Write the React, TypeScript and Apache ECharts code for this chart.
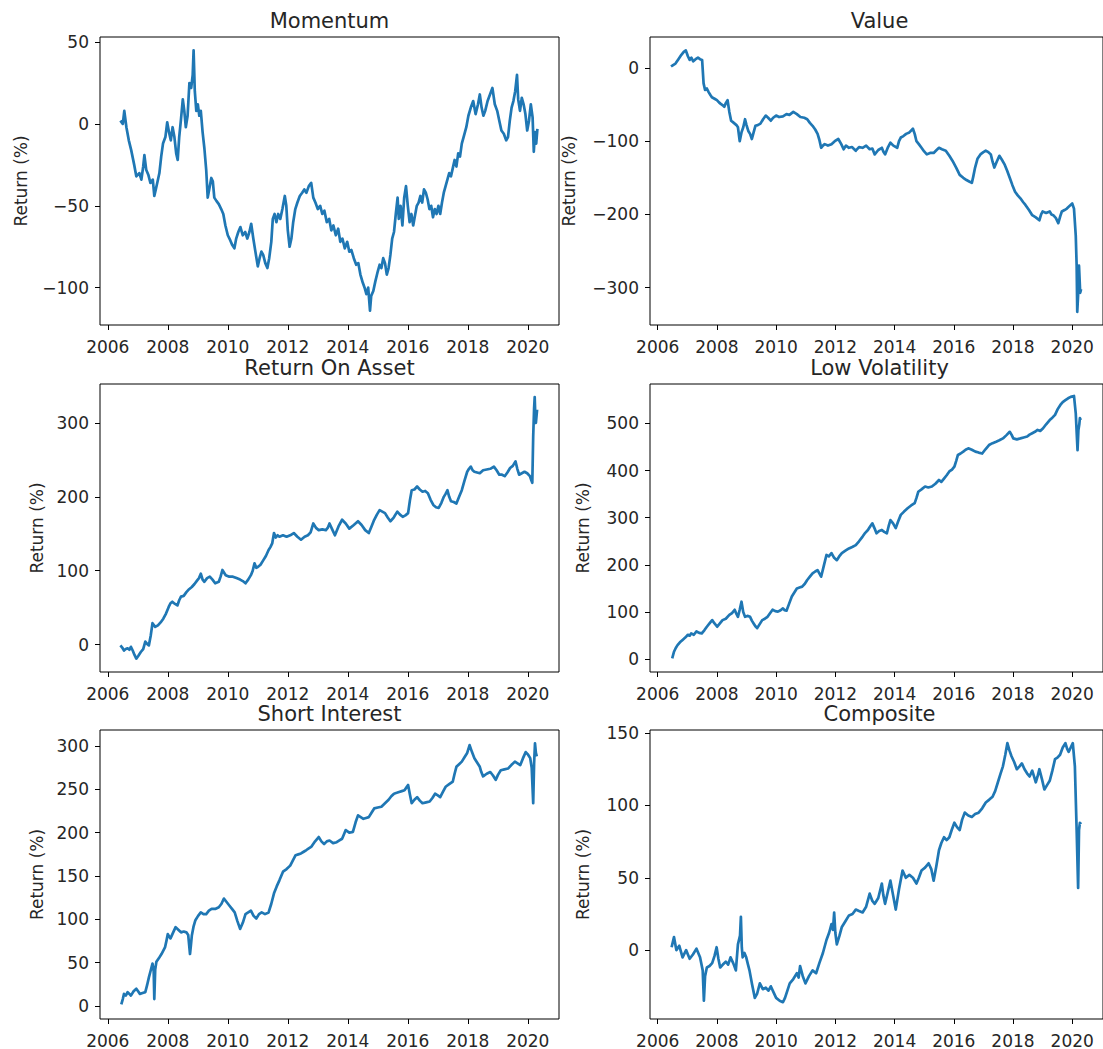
import React, { useEffect, useRef } from "react";
import * as echarts from "echarts";

// ---------- data (decimal year, return %) ----------
const TITLES = ["Momentum", "Value", "Return On Asset", "Low Volatility", "Short Interest", "Composite"];
const X_TICK_YEARS = [2006, 2008, 2010, 2012, 2014, 2016, 2018, 2020];
const X_RANGE = [2005.74, 2021.04];
const Y_TICKS = [
  [-100, -50, 0, 50],
  [-300, -200, -100, 0],
  [0, 100, 200, 300],
  [0, 100, 200, 300, 400, 500],
  [0, 50, 100, 150, 200, 250, 300],
  [0, 50, 100, 150],
];
const Y_RANGES = [
  [-122.8, 53.1],
  [-351, 42.3],
  [-37.1, 352.8],
  [-26.9, 583.3],
  [-15, 318.5],
  [-47.6, 152.1],
];

const MOMENTUM = [
  [2006.42, 2], [2006.5, 0], [2006.55, 8], [2006.62, -2], [2006.7, -10], [2006.78, -16], [2006.88, -25], [2006.95, -32],
  [2007.05, -30], [2007.12, -34], [2007.18, -26], [2007.22, -19], [2007.28, -28], [2007.35, -31], [2007.42, -36], [2007.5, -34],
  [2007.55, -44], [2007.6, -40], [2007.66, -35], [2007.72, -30], [2007.78, -20], [2007.84, -12], [2007.92, -8], [2007.98, 1],
  [2008.04, -5], [2008.1, -10], [2008.16, -2], [2008.22, -8], [2008.28, -18], [2008.33, -22], [2008.38, -8], [2008.44, 3],
  [2008.5, 15], [2008.55, 8], [2008.6, -2], [2008.66, 5], [2008.72, 25], [2008.78, 22], [2008.83, 30], [2008.86, 45],
  [2008.9, 20], [2008.95, 8], [2009.0, 12], [2009.05, 5], [2009.1, 8], [2009.16, -5], [2009.22, -15], [2009.28, -28],
  [2009.33, -45], [2009.38, -40], [2009.45, -33], [2009.5, -35], [2009.55, -45], [2009.62, -47], [2009.7, -49], [2009.78, -52],
  [2009.85, -55], [2009.92, -62], [2010.0, -68], [2010.08, -71], [2010.15, -74], [2010.22, -76], [2010.28, -70], [2010.35, -66],
  [2010.42, -63], [2010.5, -68], [2010.58, -66], [2010.65, -70], [2010.72, -66], [2010.78, -61], [2010.85, -70], [2010.92, -78],
  [2011.0, -87], [2011.06, -82], [2011.12, -78], [2011.18, -80], [2011.25, -85], [2011.32, -88], [2011.38, -82], [2011.45, -72],
  [2011.5, -58], [2011.56, -55], [2011.62, -60], [2011.68, -55], [2011.75, -58], [2011.82, -52], [2011.9, -44], [2011.95, -50],
  [2012.0, -65], [2012.06, -75], [2012.12, -70], [2012.18, -60], [2012.25, -52], [2012.32, -48], [2012.4, -44], [2012.48, -42],
  [2012.55, -40], [2012.62, -42], [2012.7, -38], [2012.78, -36], [2012.85, -45], [2012.92, -48], [2013.0, -52], [2013.08, -50],
  [2013.15, -55], [2013.22, -53], [2013.3, -60], [2013.38, -58], [2013.45, -65], [2013.52, -62], [2013.6, -68], [2013.68, -64],
  [2013.75, -72], [2013.82, -70], [2013.9, -76], [2013.98, -72], [2014.05, -78], [2014.12, -77], [2014.2, -82], [2014.28, -86],
  [2014.35, -85], [2014.42, -92], [2014.5, -97], [2014.56, -100], [2014.62, -104], [2014.68, -100], [2014.74, -114], [2014.78, -105],
  [2014.85, -102], [2014.92, -96], [2015.0, -90], [2015.06, -86], [2015.12, -88], [2015.18, -82], [2015.24, -85], [2015.3, -92],
  [2015.36, -88], [2015.42, -80], [2015.48, -70], [2015.54, -66], [2015.6, -55], [2015.66, -45], [2015.7, -58], [2015.76, -50],
  [2015.82, -62], [2015.88, -45], [2015.94, -38], [2016.0, -50], [2016.06, -60], [2016.12, -55], [2016.18, -62], [2016.24, -56],
  [2016.3, -50], [2016.36, -48], [2016.42, -44], [2016.48, -48], [2016.54, -40], [2016.6, -42], [2016.66, -46], [2016.72, -52],
  [2016.78, -50], [2016.84, -57], [2016.9, -52], [2016.96, -55], [2017.02, -50], [2017.08, -55], [2017.14, -48], [2017.2, -42],
  [2017.26, -38], [2017.32, -34], [2017.38, -30], [2017.44, -32], [2017.5, -27], [2017.56, -22], [2017.62, -26], [2017.68, -18],
  [2017.74, -20], [2017.8, -12], [2017.86, -8], [2017.95, -2], [2018.02, 5], [2018.1, 10], [2018.18, 14], [2018.26, 6],
  [2018.34, 12], [2018.4, 18], [2018.46, 10], [2018.52, 5], [2018.58, 8], [2018.66, 14], [2018.74, 18], [2018.82, 22],
  [2018.9, 12], [2018.98, 8], [2019.05, 2], [2019.12, -4], [2019.2, -6], [2019.28, -10], [2019.34, -8], [2019.4, 2],
  [2019.46, 10], [2019.52, 14], [2019.58, 20], [2019.64, 30], [2019.68, 15], [2019.74, 8], [2019.8, 16], [2019.86, 12],
  [2019.92, 6], [2019.98, -4], [2020.04, 2], [2020.1, 12], [2020.16, 4], [2020.2, -17], [2020.24, -5], [2020.28, -12], [2020.32, -3],
];

const VALUE = [
  [2006.45, 2], [2006.52, 4], [2006.6, 6], [2006.7, 12], [2006.8, 18], [2006.88, 22], [2006.95, 24], [2007.02, 16],
  [2007.08, 11], [2007.14, 14], [2007.2, 9], [2007.28, 12], [2007.36, 14], [2007.43, 12], [2007.5, 11], [2007.55, -21],
  [2007.6, -30], [2007.66, -28], [2007.72, -33], [2007.78, -37], [2007.83, -40], [2007.92, -42], [2008.0, -44], [2008.07, -47],
  [2008.13, -49], [2008.2, -51], [2008.25, -53], [2008.3, -48], [2008.36, -44], [2008.42, -60], [2008.48, -72], [2008.54, -74],
  [2008.6, -76], [2008.66, -78], [2008.71, -81], [2008.77, -100], [2008.83, -88], [2008.89, -81], [2008.95, -70], [2009.0, -78],
  [2009.06, -86], [2009.12, -90], [2009.18, -97], [2009.24, -88], [2009.3, -79], [2009.38, -78], [2009.47, -76], [2009.56, -70],
  [2009.65, -65], [2009.73, -68], [2009.82, -72], [2009.9, -68], [2010.0, -65], [2010.1, -67], [2010.23, -66], [2010.35, -63],
  [2010.45, -64], [2010.58, -60], [2010.7, -63], [2010.82, -67], [2010.95, -68], [2011.05, -70], [2011.14, -75], [2011.23, -79],
  [2011.32, -84], [2011.4, -90], [2011.46, -98], [2011.52, -109], [2011.58, -106], [2011.64, -104], [2011.75, -106], [2011.87, -104],
  [2011.98, -100], [2012.1, -97], [2012.2, -104], [2012.28, -111], [2012.36, -106], [2012.46, -109], [2012.56, -108], [2012.69, -113],
  [2012.8, -108], [2012.92, -109], [2013.04, -106], [2013.16, -111], [2013.25, -110], [2013.33, -118], [2013.45, -112], [2013.57, -109],
  [2013.62, -114], [2013.68, -118], [2013.78, -108], [2013.86, -102], [2013.96, -106], [2014.09, -109], [2014.15, -100], [2014.21, -95],
  [2014.3, -93], [2014.39, -90], [2014.5, -88], [2014.62, -83], [2014.68, -90], [2014.74, -100], [2014.82, -104], [2014.91, -109],
  [2015.0, -114], [2015.09, -118], [2015.2, -116], [2015.32, -116], [2015.42, -112], [2015.5, -109], [2015.6, -111], [2015.73, -113],
  [2015.85, -120], [2015.96, -127], [2016.08, -136], [2016.2, -146], [2016.32, -150], [2016.43, -153], [2016.52, -155], [2016.61, -157],
  [2016.66, -148], [2016.72, -136], [2016.8, -124], [2016.9, -118], [2017.0, -115], [2017.08, -113], [2017.17, -115], [2017.25, -118],
  [2017.31, -128], [2017.37, -136], [2017.45, -128], [2017.54, -120], [2017.62, -125], [2017.72, -132], [2017.8, -140], [2017.89, -150],
  [2017.98, -160], [2018.07, -169], [2018.16, -174], [2018.25, -178], [2018.34, -183], [2018.42, -187], [2018.54, -194], [2018.65, -201],
  [2018.77, -204], [2018.89, -208], [2018.95, -200], [2019.0, -196], [2019.12, -198], [2019.24, -196], [2019.3, -200], [2019.36, -201],
  [2019.45, -205], [2019.53, -212], [2019.6, -202], [2019.65, -196], [2019.74, -194], [2019.82, -192], [2019.92, -188], [2020.0, -185],
  [2020.06, -192], [2020.12, -229], [2020.15, -270], [2020.17, -333], [2020.21, -302], [2020.23, -270], [2020.27, -307], [2020.3, -302],
];

const RETURN_ON_ASSET = [
  [2006.42, -1], [2006.48, -4], [2006.54, -8], [2006.6, -6], [2006.66, -5], [2006.72, -7], [2006.77, -3], [2006.83, -8],
  [2006.89, -14], [2006.95, -19], [2007.02, -15], [2007.1, -10], [2007.18, -6], [2007.25, 4], [2007.31, 1], [2007.37, -1],
  [2007.43, 12], [2007.49, 29], [2007.58, 24], [2007.67, 26], [2007.76, 30], [2007.85, 35], [2007.94, 42], [2008.03, 51],
  [2008.09, 56], [2008.15, 58], [2008.24, 55], [2008.32, 53], [2008.38, 60], [2008.44, 65], [2008.53, 66], [2008.62, 71],
  [2008.71, 75], [2008.8, 78], [2008.89, 82], [2008.98, 87], [2009.04, 90], [2009.1, 96], [2009.16, 88], [2009.22, 85],
  [2009.31, 90], [2009.4, 92], [2009.49, 88], [2009.58, 83], [2009.64, 84], [2009.7, 85], [2009.76, 92], [2009.82, 101],
  [2009.93, 94], [2010.05, 92], [2010.17, 92], [2010.29, 90], [2010.41, 88], [2010.5, 86], [2010.59, 83], [2010.68, 88],
  [2010.77, 94], [2010.83, 100], [2010.89, 110], [2010.95, 104], [2011.0, 105], [2011.09, 108], [2011.18, 114], [2011.27, 120],
  [2011.36, 128], [2011.42, 132], [2011.48, 137], [2011.54, 151], [2011.6, 145], [2011.66, 148], [2011.72, 146], [2011.84, 148],
  [2011.96, 146], [2012.08, 148], [2012.2, 151], [2012.32, 146], [2012.44, 142], [2012.56, 146], [2012.67, 148], [2012.76, 152],
  [2012.85, 164], [2012.94, 158], [2013.03, 155], [2013.15, 156], [2013.27, 155], [2013.33, 158], [2013.39, 164], [2013.48, 156],
  [2013.57, 148], [2013.69, 160], [2013.81, 169], [2013.93, 164], [2014.05, 157], [2014.2, 162], [2014.34, 167], [2014.46, 162],
  [2014.58, 155], [2014.7, 151], [2014.79, 160], [2014.88, 169], [2014.97, 176], [2015.06, 182], [2015.15, 180], [2015.24, 178],
  [2015.33, 172], [2015.42, 167], [2015.53, 172], [2015.65, 180], [2015.74, 176], [2015.83, 173], [2015.92, 175], [2016.01, 178],
  [2016.07, 195], [2016.13, 209], [2016.22, 210], [2016.31, 214], [2016.4, 210], [2016.49, 207], [2016.58, 208], [2016.67, 205],
  [2016.76, 196], [2016.85, 189], [2016.94, 186], [2017.03, 185], [2017.12, 192], [2017.2, 200], [2017.26, 204], [2017.32, 209],
  [2017.38, 200], [2017.44, 194], [2017.53, 193], [2017.62, 191], [2017.71, 200], [2017.8, 209], [2017.89, 222], [2017.98, 234],
  [2018.04, 238], [2018.1, 241], [2018.16, 236], [2018.22, 234], [2018.31, 233], [2018.4, 232], [2018.51, 236], [2018.63, 237],
  [2018.75, 238], [2018.87, 241], [2018.96, 236], [2019.05, 230], [2019.14, 230], [2019.23, 228], [2019.32, 233], [2019.41, 239],
  [2019.5, 242], [2019.59, 248], [2019.65, 238], [2019.71, 230], [2019.8, 232], [2019.89, 234], [2019.98, 232], [2020.07, 228],
  [2020.12, 222], [2020.15, 219], [2020.18, 282], [2020.21, 320], [2020.23, 335], [2020.25, 310], [2020.27, 300], [2020.31, 318],
];

const LOW_VOLATILITY = [
  [2006.49, 2], [2006.55, 16], [2006.61, 24], [2006.67, 30], [2006.75, 36], [2006.84, 41], [2006.93, 46], [2007.02, 52],
  [2007.08, 50], [2007.13, 55], [2007.22, 52], [2007.31, 59], [2007.4, 56], [2007.49, 55], [2007.58, 62], [2007.66, 69],
  [2007.75, 76], [2007.84, 83], [2007.92, 76], [2008.01, 69], [2008.1, 76], [2008.19, 83], [2008.3, 86], [2008.42, 94],
  [2008.51, 98], [2008.6, 105], [2008.66, 96], [2008.71, 90], [2008.77, 105], [2008.83, 122], [2008.89, 100], [2008.95, 90],
  [2009.03, 92], [2009.12, 90], [2009.18, 82], [2009.24, 76], [2009.3, 70], [2009.36, 66], [2009.45, 75], [2009.53, 83],
  [2009.62, 86], [2009.71, 90], [2009.8, 98], [2009.88, 105], [2009.97, 102], [2010.06, 101], [2010.15, 104], [2010.23, 108],
  [2010.29, 104], [2010.35, 103], [2010.44, 118], [2010.53, 133], [2010.62, 142], [2010.7, 150], [2010.79, 152], [2010.88, 154],
  [2010.97, 160], [2011.05, 168], [2011.14, 175], [2011.23, 182], [2011.32, 186], [2011.4, 189], [2011.46, 182], [2011.52, 175],
  [2011.61, 198], [2011.7, 221], [2011.78, 218], [2011.87, 225], [2011.96, 215], [2012.05, 210], [2012.13, 218], [2012.22, 225],
  [2012.34, 230], [2012.46, 235], [2012.57, 238], [2012.69, 242], [2012.8, 250], [2012.92, 260], [2013.01, 268], [2013.1, 274],
  [2013.18, 282], [2013.25, 288], [2013.32, 278], [2013.39, 267], [2013.48, 272], [2013.57, 274], [2013.65, 270], [2013.74, 267],
  [2013.8, 282], [2013.86, 295], [2013.95, 288], [2014.04, 278], [2014.12, 292], [2014.21, 306], [2014.32, 313], [2014.44, 320],
  [2014.56, 326], [2014.68, 331], [2014.74, 342], [2014.8, 355], [2014.91, 360], [2015.03, 366], [2015.14, 364], [2015.26, 366],
  [2015.38, 372], [2015.5, 380], [2015.58, 376], [2015.67, 383], [2015.76, 390], [2015.85, 398], [2015.94, 402], [2016.02, 408],
  [2016.08, 420], [2016.14, 433], [2016.23, 436], [2016.32, 440], [2016.4, 444], [2016.49, 447], [2016.61, 444], [2016.73, 440],
  [2016.84, 438], [2016.96, 436], [2017.07, 445], [2017.19, 454], [2017.31, 458], [2017.43, 461], [2017.54, 464], [2017.66, 468],
  [2017.78, 475], [2017.89, 482], [2017.95, 476], [2018.01, 468], [2018.13, 466], [2018.25, 468], [2018.36, 470], [2018.48, 472],
  [2018.56, 476], [2018.65, 479], [2018.74, 482], [2018.83, 486], [2018.92, 484], [2019.01, 489], [2019.12, 498], [2019.24, 507],
  [2019.33, 512], [2019.42, 518], [2019.51, 530], [2019.6, 539], [2019.68, 545], [2019.77, 549], [2019.86, 553], [2019.95, 556],
  [2020.06, 558], [2020.12, 521], [2020.18, 443], [2020.21, 486], [2020.24, 498], [2020.26, 511], [2020.29, 507],
];

const SHORT_INTEREST = [
  [2006.45, 2], [2006.5, 8], [2006.54, 14], [2006.6, 12], [2006.66, 16], [2006.72, 14], [2006.77, 12], [2006.86, 17],
  [2006.95, 20], [2007.01, 17], [2007.07, 14], [2007.16, 15], [2007.25, 16], [2007.31, 24], [2007.37, 33], [2007.43, 41],
  [2007.49, 49], [2007.53, 40], [2007.55, 8], [2007.58, 42], [2007.62, 51], [2007.7, 55], [2007.79, 60], [2007.85, 64],
  [2007.91, 68], [2007.96, 76], [2008.0, 83], [2008.05, 80], [2008.09, 78], [2008.18, 85], [2008.26, 91], [2008.35, 88],
  [2008.44, 85], [2008.53, 86], [2008.62, 85], [2008.68, 82], [2008.74, 60], [2008.77, 70], [2008.8, 81], [2008.86, 92],
  [2008.92, 99], [2009.01, 104], [2009.1, 108], [2009.19, 106], [2009.28, 106], [2009.37, 110], [2009.46, 112], [2009.58, 112],
  [2009.7, 114], [2009.79, 118], [2009.87, 124], [2009.96, 120], [2010.05, 116], [2010.14, 112], [2010.23, 108], [2010.32, 98],
  [2010.41, 89], [2010.5, 96], [2010.59, 106], [2010.68, 108], [2010.77, 110], [2010.86, 104], [2010.95, 101], [2011.04, 106],
  [2011.13, 108], [2011.24, 106], [2011.36, 108], [2011.45, 118], [2011.54, 130], [2011.63, 138], [2011.72, 145], [2011.78, 150],
  [2011.84, 155], [2011.96, 158], [2012.08, 162], [2012.17, 168], [2012.26, 174], [2012.35, 175], [2012.44, 176], [2012.53, 178],
  [2012.62, 180], [2012.7, 182], [2012.79, 184], [2012.91, 190], [2013.03, 195], [2013.12, 190], [2013.21, 187], [2013.3, 190],
  [2013.39, 191], [2013.51, 188], [2013.63, 189], [2013.72, 191], [2013.81, 193], [2013.87, 198], [2013.93, 203], [2014.05, 200],
  [2014.17, 201], [2014.26, 212], [2014.34, 220], [2014.43, 218], [2014.52, 216], [2014.61, 217], [2014.7, 218], [2014.79, 223],
  [2014.88, 228], [2015.0, 229], [2015.12, 230], [2015.24, 234], [2015.36, 238], [2015.45, 242], [2015.54, 245], [2015.63, 246],
  [2015.71, 247], [2015.8, 248], [2015.89, 249], [2015.95, 252], [2016.01, 255], [2016.07, 244], [2016.13, 234], [2016.22, 238],
  [2016.31, 241], [2016.4, 237], [2016.49, 234], [2016.61, 235], [2016.73, 236], [2016.82, 240], [2016.91, 245], [2017.0, 243],
  [2017.08, 241], [2017.17, 247], [2017.26, 253], [2017.38, 256], [2017.5, 259], [2017.56, 268], [2017.62, 276], [2017.71, 279],
  [2017.8, 282], [2017.89, 287], [2017.98, 292], [2018.06, 301], [2018.14, 293], [2018.22, 286], [2018.31, 281], [2018.4, 276],
  [2018.45, 270], [2018.51, 265], [2018.63, 268], [2018.75, 270], [2018.84, 266], [2018.93, 261], [2019.01, 267], [2019.1, 272],
  [2019.22, 273], [2019.34, 274], [2019.45, 278], [2019.57, 282], [2019.66, 280], [2019.75, 278], [2019.84, 286], [2019.93, 293],
  [2020.01, 290], [2020.08, 286], [2020.13, 275], [2020.18, 234], [2020.21, 280], [2020.24, 303], [2020.27, 292], [2020.3, 288],
];

const COMPOSITE = [
  [2006.47, 2], [2006.55, 9], [2006.63, 0], [2006.73, 3], [2006.84, -5], [2006.96, 0], [2007.02, -3], [2007.08, -6],
  [2007.19, -3], [2007.31, 1], [2007.37, -2], [2007.43, -5], [2007.52, -14], [2007.56, -35], [2007.6, -18], [2007.66, -12],
  [2007.75, -11], [2007.84, -9], [2007.92, -4], [2007.99, 2], [2008.05, -6], [2008.11, -12], [2008.2, -10], [2008.3, -8],
  [2008.38, -10], [2008.46, -5], [2008.55, -9], [2008.64, -14], [2008.71, 4], [2008.78, 10], [2008.81, 23], [2008.84, 2],
  [2008.87, -5], [2008.93, -2], [2008.99, -5], [2009.05, -10], [2009.1, -14], [2009.19, -24], [2009.28, -33], [2009.36, -30],
  [2009.45, -23], [2009.55, -27], [2009.65, -26], [2009.74, -28], [2009.82, -25], [2009.91, -29], [2010.0, -33], [2010.12, -35],
  [2010.23, -36], [2010.3, -33], [2010.38, -28], [2010.46, -23], [2010.58, -20], [2010.7, -16], [2010.76, -19], [2010.81, -11],
  [2010.9, -18], [2010.99, -23], [2011.11, -18], [2011.23, -14], [2011.35, -16], [2011.46, -9], [2011.58, -2], [2011.7, 7],
  [2011.79, 12], [2011.87, 18], [2011.92, 14], [2011.96, 26], [2012.0, 12], [2012.05, 4], [2012.14, 10], [2012.22, 16],
  [2012.34, 20], [2012.46, 24], [2012.58, 25], [2012.69, 28], [2012.8, 27], [2012.92, 26], [2013.04, 30], [2013.16, 39],
  [2013.25, 34], [2013.33, 32], [2013.45, 36], [2013.57, 46], [2013.62, 38], [2013.68, 32], [2013.77, 40], [2013.86, 48],
  [2013.95, 38], [2014.04, 28], [2014.15, 42], [2014.27, 55], [2014.38, 50], [2014.5, 52], [2014.62, 50], [2014.74, 46],
  [2014.82, 50], [2014.91, 55], [2015.03, 57], [2015.15, 60], [2015.24, 56], [2015.32, 48], [2015.41, 58], [2015.5, 69],
  [2015.58, 74], [2015.67, 78], [2015.76, 76], [2015.85, 78], [2015.93, 83], [2016.02, 88], [2016.11, 85], [2016.2, 83],
  [2016.28, 90], [2016.37, 95], [2016.49, 93], [2016.61, 92], [2016.72, 94], [2016.84, 95], [2016.96, 98], [2017.08, 102],
  [2017.2, 104], [2017.31, 106], [2017.4, 110], [2017.49, 116], [2017.58, 122], [2017.66, 127], [2017.74, 135], [2017.81, 143],
  [2017.88, 138], [2017.95, 134], [2018.04, 130], [2018.13, 125], [2018.22, 127], [2018.3, 129], [2018.39, 125], [2018.48, 122],
  [2018.56, 120], [2018.65, 124], [2018.71, 120], [2018.77, 116], [2018.83, 120], [2018.89, 125], [2018.98, 118], [2019.06, 111],
  [2019.15, 114], [2019.24, 117], [2019.33, 124], [2019.42, 132], [2019.5, 133], [2019.59, 135], [2019.68, 140], [2019.77, 143],
  [2019.83, 139], [2019.88, 137], [2019.95, 140], [2020.02, 143], [2020.09, 127], [2020.15, 83], [2020.2, 43], [2020.23, 83],
  [2020.26, 88], [2020.3, 87],
];

const SERIES = [MOMENTUM, VALUE, RETURN_ON_ASSET, LOW_VOLATILITY, SHORT_INTEREST, COMPOSITE];

// ---------- layout / style ----------
const COL_LEFT = [100, 650];
const ROW_TOP = [37, 384, 730];
const ROW_HEIGHT = [288, 288, 289];
const PLOT_W = 459;
const NAME_GAP = [71, 73, 55, 59, 55, 59];
const FONT = "DejaVu Sans";
const TEXT_COLOR = "#262626";
const LINE_COLOR = "#1f77b4";

function fmtNum(v: number): string {
  return v < 0 ? "\u2212" + Math.abs(v) : String(v);
}

export default function App() {
  const ref = useRef<HTMLDivElement>(null);

  useEffect(() => {
    if (!ref.current) return;
    const chart = echarts.init(ref.current, undefined, { renderer: "svg" });

    const grids: any[] = [];
    const xAxes: any[] = [];
    const yAxes: any[] = [];
    const series: any[] = [];
    const titles: any[] = [];

    for (let i = 0; i < 6; i++) {
      const col = i % 2;
      const row = Math.floor(i / 2);
      const left = COL_LEFT[col];
      const top = ROW_TOP[row];
      const height = ROW_HEIGHT[row];
      grids.push({
        left,
        top,
        width: PLOT_W,
        height,
        containLabel: false,
        show: true,
        borderColor: "#000",
        borderWidth: 1,
        backgroundColor: "transparent",
      });
      xAxes.push({
        type: "value",
        gridIndex: i,
        position: "bottom",
        min: X_RANGE[0],
        max: X_RANGE[1],
        axisLine: { show: false, onZero: false },
        splitLine: { show: false },
        axisTick: {
          show: true,
          inside: false,
          length: 5,
          customValues: X_TICK_YEARS,
          lineStyle: { color: "#000", width: 1 },
        },
        axisLabel: {
          show: true,
          customValues: X_TICK_YEARS,
          margin: 13,
          fontFamily: FONT,
          fontSize: 17,
          lineHeight: 17,
          color: TEXT_COLOR,
          formatter: (v: number) => String(v),
        },
      });
      yAxes.push({
        type: "value",
        gridIndex: i,
        position: "left",
        min: Y_RANGES[i][0],
        max: Y_RANGES[i][1],
        name: "Return (%)",
        nameLocation: "middle",
        nameRotate: 90,
        nameGap: NAME_GAP[i],
        nameTextStyle: { fontFamily: FONT, fontSize: 17, lineHeight: 17, color: TEXT_COLOR },
        axisLine: { show: false, onZero: false },
        splitLine: { show: false },
        axisTick: {
          show: true,
          inside: false,
          length: 5,
          customValues: Y_TICKS[i],
          lineStyle: { color: "#000", width: 1 },
        },
        axisLabel: {
          show: true,
          customValues: Y_TICKS[i],
          margin: 11,
          fontFamily: FONT,
          fontSize: 17,
          lineHeight: 17,
          color: TEXT_COLOR,
          formatter: (v: number) => fmtNum(v),
        },
      });
      series.push({
        type: "line",
        name: TITLES[i],
        xAxisIndex: i,
        yAxisIndex: i,
        data: SERIES[i],
        showSymbol: false,
        symbol: "none",
        lineStyle: { color: LINE_COLOR, width: 2.7, join: "round" },
        itemStyle: { color: LINE_COLOR },
        clip: true,
      });
      titles.push({
        text: TITLES[i],
        left: left + PLOT_W / 2,
        top: top - 27,
        textAlign: "center",
        padding: 0,
        textStyle: {
          fontFamily: FONT,
          fontSize: 21,
          lineHeight: 21,
          fontWeight: "normal",
          color: TEXT_COLOR,
        },
      });
    }

    chart.setOption({
      animation: false,
      backgroundColor: "#ffffff",
      title: titles,
      grid: grids,
      xAxis: xAxes,
      yAxis: yAxes,
      series,
    });

    return () => chart.dispose();
  }, []);

  return (
    <div
      ref={ref}
      style={{ position: "absolute", left: 0, top: 0, width: 1103, height: 1049, background: "#fff" }}
    />
  );
}
